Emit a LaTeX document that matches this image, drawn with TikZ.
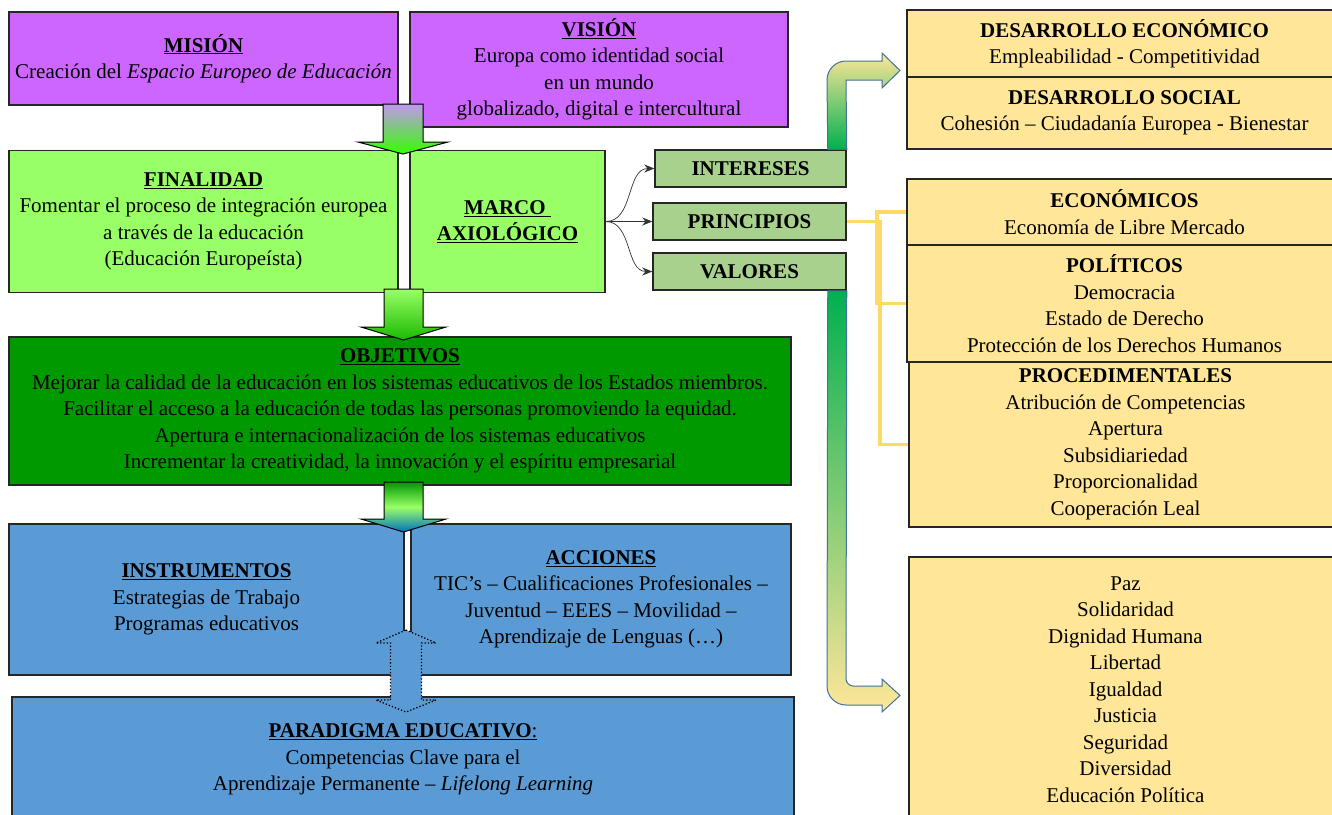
\documentclass[tikz,border=0pt]{standalone}
\usepackage{fontspec}
\setmainfont{Liberation Serif}
\usetikzlibrary{arrows.meta}

\definecolor{morado}{RGB}{204,102,255}
\definecolor{verdeclaro}{RGB}{153,255,102}
\definecolor{verdeosc}{RGB}{0,153,0}
\definecolor{azul}{RGB}{91,155,213}
\definecolor{crema}{RGB}{255,230,153}
\definecolor{olivo}{RGB}{169,209,142}
\definecolor{amarillo}{RGB}{255,217,102}
\definecolor{verdeflecha}{RGB}{0,176,80}
\definecolor{bordeflecha}{RGB}{65,113,156}
\definecolor{lila}{RGB}{195,150,240}
\definecolor{azulflecha}{RGB}{0,112,192}

\newcommand{\titulo}[1]{\underline{\textbf{#1}}}

\begin{document}
\begin{tikzpicture}[x=1pt, y=-1pt,
		caja/.style={draw=black!85, line width=1.5pt, inner sep=0pt, align=center, font=\fontsize{21}{26.5}\selectfont},
		etiqueta/.style={draw=black!85, line width=1.5pt, fill=olivo, inner sep=0pt, minimum height=37, font=\bfseries\fontsize{21}{26.5}\selectfont},
		flecha/.style={draw=black, line width=1pt},
		curva/.style={-{Stealth[length=10pt,width=8pt]}, line width=0.7pt, draw=black!80},
		enlace/.style={draw=amarillo, line width=3.5pt}
	]
	\useasboundingbox (0,0) rectangle (1332,814);
	\clip (0,0) rectangle (1332,814);

	% Mision y vision
	\node[caja, fill=morado, minimum width=389, minimum height=93] (mision) at (203.5,58.5)
		{\titulo{MISIÓN}\\Creación del \textit{Espacio Europeo de Educación}};
	\node[caja, fill=morado, minimum width=378, minimum height=115] (vision) at (599,69.5)
		{\titulo{VISIÓN}\\Europa como identidad social\\en un mundo\\globalizado, digital e intercultural};

	% Finalidad y marco
	\node[caja, fill=verdeclaro, minimum width=389, minimum height=142] (finalidad) at (203.5,221.5)
		{\titulo{FINALIDAD}\\Fomentar el proceso de integración europea\\a través de la educación\\(Educación Europeísta)};
	\node[caja, fill=verdeclaro, minimum width=195, minimum height=142] (marco) at (507.5,221.5)
		{\titulo{MARCO\ }\\\titulo{AXIOLÓGICO}};

	% Objetivos
	\node[caja, fill=verdeosc, minimum width=782, minimum height=148] (objetivos) at (400,411)
		{\titulo{OBJETIVOS}\\Mejorar la calidad de la educación en los sistemas educativos de los Estados miembros.\\
		Facilitar el acceso a la educación de todas las personas promoviendo la equidad.\\
		Apertura e internacionalización de los sistemas educativos\\
		Incrementar la creatividad, la innovación y el espíritu empresarial};

	% Instrumentos y acciones
	\node[caja, fill=azul, minimum width=395, minimum height=151] (instrumentos) at (206.5,599.5)
		{\titulo{INSTRUMENTOS}\\Estrategias de Trabajo\\Programas educativos};
	\node[caja, fill=azul, minimum width=380, minimum height=151] (acciones) at (601,599.5)
		{\titulo{ACCIONES}\\TIC’s – Cualificaciones Profesionales –\\Juventud – EEES – Movilidad –\\Aprendizaje de Lenguas (…)};

	% Paradigma
	\node[caja, fill=azul, minimum width=782, minimum height=125] (paradigma) at (403,759.5)
		{\underline{\textbf{PARADIGMA EDUCATIVO}:}\\Competencias Clave para el\\Aprendizaje Permanente – \textit{Lifelong Learning}};

	% Columna derecha
	\node[caja, fill=crema, minimum width=435, minimum height=67] (deseco) at (1124.5,43.5)
		{\textbf{DESARROLLO ECONÓMICO}\\Empleabilidad - Competitividad};
	\node[caja, fill=crema, minimum width=435, minimum height=72] (dessoc) at (1124.5,113)
		{\textbf{DESARROLLO SOCIAL}\\Cohesión – Ciudadanía Europea - Bienestar};
	\node[caja, fill=crema, minimum width=435, minimum height=66] (economicos) at (1124.5,212)
		{\textbf{ECONÓMICOS}\\Economía de Libre Mercado};
	\node[caja, fill=crema, minimum width=435, minimum height=117] (politicos) at (1124.5,303.5)
		{\textbf{POLÍTICOS}\\Democracia\\Estado de Derecho\\Protección de los Derechos Humanos};
	\node[caja, fill=crema, minimum width=433, minimum height=165] (procedimentales) at (1125.5,444.5)
		{\textbf{PROCEDIMENTALES}\\Atribución de Competencias\\Apertura\\Subsidiariedad\\Proporcionalidad\\Cooperación Leal};
	\node[caja, fill=crema, minimum width=433, minimum height=265] (listavalores) at (1125.5,689.5)
		{Paz\\Solidaridad\\Dignidad Humana\\Libertad\\Igualdad\\Justicia\\Seguridad\\Diversidad\\Educación Política};

	% Intereses, principios, valores
	\node[etiqueta, minimum width=191] (intereses) at (750.5,168.5) {INTERESES};
	\node[etiqueta, minimum width=193] (principios) at (749.5,221.5) {PRINCIPIOS};
	\node[etiqueta, minimum width=193] (valores) at (749.5,271.5) {VALORES};

	\draw[curva] (marco.east) to[out=0, in=180] (intereses.west);
	\draw[curva] (marco.east) -- (principios.west);
	\draw[curva] (marco.east) to[out=0, in=180] (valores.west);

	% Principios
	\draw[enlace] (principios.east) -- ++(30,0) |- (economicos.west);
	\draw[enlace] (principios.east) -- ++(30,0) |- (politicos.west);
	\draw[enlace] (principios.east) -- ++(33,0) |- (procedimentales.west);

	% Flecha de intereses
	\shade[top color=crema, bottom color=verdeflecha, draw=bordeflecha, line width=1pt]
		([xshift=-19pt]intereses.north east) -- (827,80) .. controls (827,69.5) and (835.5,61) .. (846,61)
		-- (882,61) -- (882,53) -- (900,70.5) -- (882,88) -- (882,80) -- (846,80) -- (intereses.north east) -- cycle;

	% Flecha de valores
	\shade[top color=verdeflecha, bottom color=crema, draw=bordeflecha, line width=1pt]
		([xshift=-19pt]valores.south east) -- (827,686) .. controls (827,696.5) and (835.5,705) .. (846,705)
		-- (882,705) -- (882,712) -- (900,695.5) -- (882,679) -- (882,686) -- (853,686)
		.. controls (849.5,686) and (846,682.5) .. (846,679) -- (valores.south east) -- cycle;

	% First
	\shade[top color=lila, bottom color=green!80!yellow, flecha]
		(383,104) -- (383,142) -- (358,142) -- (403,154) -- (448,142) -- (423,142) -- (423,104) -- cycle;

	% Second
	\shade[top color=verdeclaro, bottom color=green!70!black!90!yellow, flecha]
		(384,289) -- (384,327) -- (361,327) -- (403.5,340) -- (446,327) -- (423,327) -- (423,289) -- cycle;

	% Third
	\shade[top color=verdeosc, bottom color=azulflecha, middle color=verdeclaro, flecha]
		(384,482) -- (384,519) -- (361,519) -- (403.5,532) -- (446,519) -- (423,519) -- (423,482) -- cycle;

	% Doble flecha
	\draw[dotted, line width=1.3pt, fill=azul]
		(406,630) -- (436,643) -- (421.5,643) -- (421.5,700) -- (436,700) -- (406,712)
		-- (376,700) -- (390.5,700) -- (390.5,643) -- (376,643) -- cycle;
\end{tikzpicture}
\end{document}
